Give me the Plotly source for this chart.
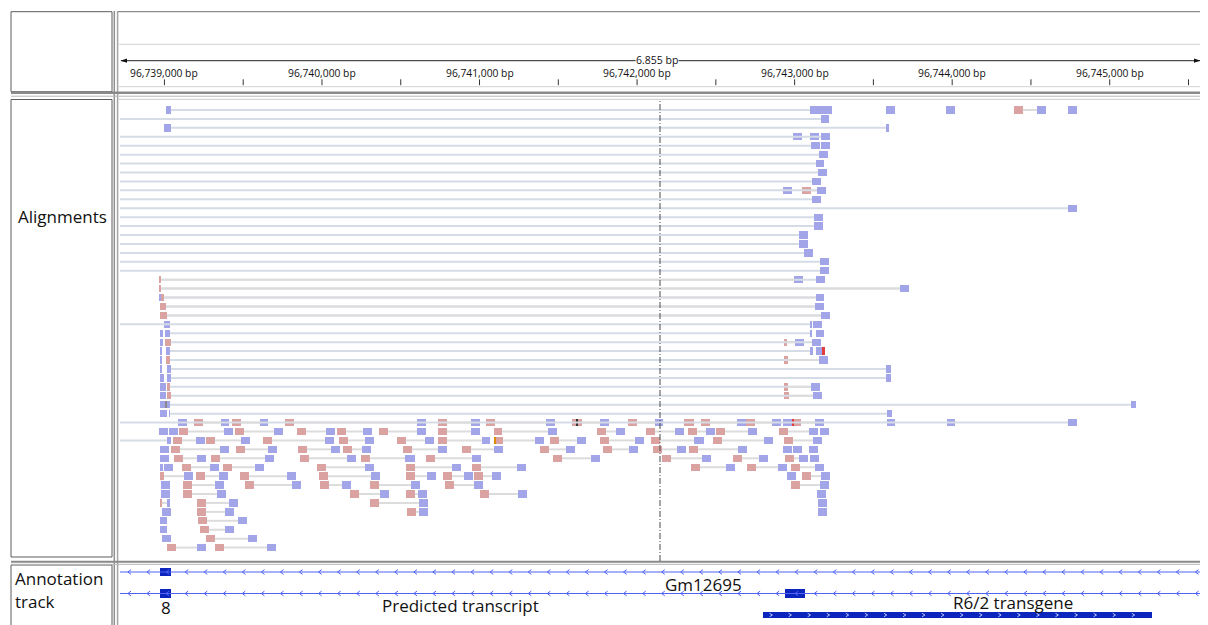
import plotly.graph_objects as go
import numpy as np

W, H = 1208, 625
PAGE_MARGIN = 8                              # the html body margin shifts the figure
BASE = 96_739_000
VIEW_START, VIEW_END = -282, 6573          # bp offsets from BASE visible in the window
OFF_LEFT = -400                             # reads that begin left of the window

RULER_TICKS = [0, 1000, 2000, 3000, 4000, 5000, 6000]
RULER_LABELS = ["96,739,000 bp", "96,740,000 bp", "96,741,000 bp", "96,742,000 bp",
                "96,743,000 bp", "96,744,000 bp", "96,745,000 bp"]
RULER_MINOR = [500, 1500, 2500, 3500, 4500, 5500, 6500]
SPAN_TEXT = "6.855 bp"

# aligned blocks per row: (start, end, strand) ; '+' = pink, '-' = blue
READ_ROWS = [
    [(10, 41, '-'), (4097, 4122, '-'), (4122, 4180, '-'), (4180, 4237, '-'), (4580, 4637, '-'),
     (4960, 5017, '-'), (5392, 5449, '+'), (5538, 5595, '-'), (5735, 5792, '-')],
    [(4167, 4218, '-')],
    [(-3, 41, '-'), (4580, 4599, '-')],
    [(3989, 4046, '-'), (4097, 4154, '-'), (4167, 4224, '-')],
    [(4103, 4161, '-'), (4167, 4224, '-')],
    [(4154, 4211, '-')],
    [(4135, 4186, '-')],
    [(4148, 4205, '-')],
    [(4110, 4167, '-')],
    [(3926, 3983, '-'), (4046, 4103, '+'), (4142, 4199, '-')],
    [(4110, 4167, '-')],
    [(5735, 5792, '-')],
    [(4122, 4180, '-')],
    [(4122, 4180, '-')],
    [(4027, 4084, '-')],
    [(4027, 4084, '-')],
    [(4059, 4116, '-')],
    [(4161, 4218, '-')],
    [(4161, 4218, '-')],
    [(-29, -20, '+'), (3995, 4053, '-'), (4135, 4192, '-')],
    [(-29, -20, '+'), (4669, 4725, '-')],
    [(-29, -22, '-'), (-22, -3, '+'), (4135, 4186, '-')],
    [(-29, 10, '+'), (4129, 4186, '-')],
    [(-29, 16, '+'), (4167, 4224, '-')],
    [(-3, 35, '-'), (4097, 4110, '-'), (4116, 4173, '-')],
    [(-29, -10, '-'), (3, 35, '-'), (4097, 4110, '-'), (4135, 4186, '-')],
    [(-29, -10, '-'), (3, 41, '+'), (3932, 3951, '+'), (4002, 4059, '-'), (4110, 4167, '-')],
    [(-29, -16, '-'), (10, 35, '-'), (4097, 4116, '-'), (4135, 4186, '-')],
    [(-29, -16, '-'), (10, 35, '+'), (3932, 3957, '+'), (4154, 4211, '-')],
    [(-29, -16, '-'), (16, 41, '-'), (4580, 4611, '-')],
    [(-29, -3, '-'), (16, 41, '-'), (4580, 4611, '-')],
    [(-29, 10, '-'), (16, 35, '+'), (3932, 3957, '+'), (4103, 4161, '-')],
    [(-29, 10, '-'), (16, 41, '+'), (3932, 3963, '+'), (4116, 4173, '-')],
    [(-29, 35, '-'), (6134, 6166, '-')],
    [(-29, 16, '-'), (29, 35, '-'), (4586, 4618, '-')],
    # 35
    [(86, 143, '-'), (187, 244, '+'), (359, 409, '-'), (429, 486, '+'), (606, 657, '-'), (765, 822, '+'),
     (1603, 1660, '-'), (1736, 1793, '+'), (1945, 2003, '-'), (2041, 2098, '+'), (2421, 2478, '-'),
     (2586, 2650, '+'), (2764, 2821, '-'), (2942, 2999, '+'), (3113, 3164, '-'), (3297, 3361, '+'),
     (3405, 3462, '+'), (3634, 3691, '-'), (3691, 3748, '+'), (3856, 3913, '-'), (3926, 3983, '-'),
     (3983, 4040, '+'), (4129, 4186, '-'), (4586, 4637, '-'), (4967, 5017, '-'), (5735, 5792, '-')],
    # 36
    [(-35, 22, '-'), (29, 86, '-'), (92, 149, '+'), (378, 435, '-'), (448, 505, '+'), (695, 752, '-'),
     (841, 898, '+'), (1025, 1082, '-'), (1095, 1152, '+'), (1260, 1317, '-'), (1362, 1419, '+'),
     (1603, 1660, '-'), (1736, 1793, '+'), (1945, 2003, '-'), (2092, 2142, '+'), (2434, 2491, '-'),
     (2745, 2802, '+'), (2866, 2923, '-'), (3056, 3113, '+'), (3240, 3297, '-'), (3323, 3380, '+'),
     (3437, 3494, '-'), (3500, 3558, '+'), (3704, 3761, '-'), (3900, 3957, '+'), (4091, 4148, '-'),
     (4161, 4218, '-')],
    # 37
    [(16, 41, '-'), (54, 111, '+'), (200, 257, '-'), (263, 320, '+'), (486, 543, '-'), (625, 682, '+'),
     (1019, 1076, '-'), (1108, 1165, '+'), (1273, 1330, '-'), (1476, 1533, '+'), (1654, 1711, '-'),
     (1736, 1793, '+'), (2015, 2066, '-'), (2092, 2148, '+'), (2352, 2409, '-'), (2447, 2504, '+'),
     (2618, 2675, '-'), (2764, 2821, '+'), (2986, 3043, '-'), (3088, 3145, '+'), (3361, 3424, '-'),
     (3481, 3538, '+'), (3805, 3862, '-'), (3932, 3989, '+'), (4116, 4173, '-')],
    # 38
    [(-29, 29, '-'), (41, 98, '+'), (352, 409, '-'), (454, 511, '+'), (657, 714, '-'), (847, 905, '+'),
     (1057, 1114, '-'), (1133, 1190, '+'), (1254, 1311, '-'), (1514, 1571, '+'), (1736, 1793, '-'),
     (1888, 1945, '+'), (2092, 2148, '-'), (2383, 2440, '+'), (2548, 2606, '-'), (2783, 2840, '+'),
     (2948, 3005, '-'), (3101, 3158, '+'), (3253, 3310, '-'), (3329, 3386, '+'), (3640, 3697, '-'),
     (3926, 3983, '-'), (3989, 4046, '-'), (4091, 4148, '-')],
    # 39
    [(-29, 29, '-'), (60, 117, '+'), (206, 263, '-'), (295, 352, '+'), (638, 695, '-'), (860, 917, '+'),
     (1159, 1215, '-'), (1247, 1304, '+'), (1527, 1590, '-'), (1660, 1717, '+'), (1952, 2009, '-'),
     (2466, 2523, '+'), (2707, 2764, '-'), (3158, 3215, '+'), (3412, 3469, '-'), (3608, 3665, '+'),
     (3773, 3831, '-'), (3938, 3995, '+'), (4027, 4084, '-'), (4097, 4154, '-')],
    # 40
    [(-29, -10, '-'), (-3, 54, '-'), (111, 168, '+'), (289, 346, '-'), (371, 429, '+'), (574, 632, '-'),
     (968, 1025, '+'), (1273, 1330, '-'), (1533, 1590, '+'), (1825, 1882, '-'), (1952, 2009, '+'),
     (2237, 2294, '-'), (3342, 3399, '+'), (3564, 3621, '-'), (3697, 3754, '+'), (3894, 3951, '-'),
     (3976, 4033, '+'), (4129, 4186, '-')],
    # 41
    [(-29, -3, '+'), (124, 181, '-'), (200, 257, '+'), (346, 403, '-'), (479, 536, '+'), (778, 835, '-'),
     (981, 1038, '+'), (1311, 1368, '-'), (1533, 1590, '+'), (1666, 1723, '-'), (1768, 1825, '+'),
     (1901, 1958, '-'), (1964, 2022, '+'), (2079, 2136, '-'), (3951, 4008, '-'), (4046, 4103, '+'),
     (4167, 4224, '-')],
    # 42
    [(-22, 35, '-'), (117, 175, '+'), (320, 378, '-'), (511, 568, '+'), (809, 866, '-'), (987, 1044, '+'),
     (1127, 1184, '-'), (1304, 1362, '+'), (1565, 1622, '-'), (1780, 1838, '+'), (1964, 2022, '-'),
     (3976, 4033, '+'), (4161, 4218, '-')],
    # 43
    [(-22, 35, '-'), (117, 175, '+'), (333, 390, '-'), (1178, 1235, '+'), (1368, 1425, '-'),
     (1533, 1590, '+'), (1609, 1666, '-'), (2003, 2060, '+'), (2244, 2301, '-'), (4142, 4199, '-')],
    # 44
    [(-29, -16, '+'), (16, 35, '-'), (206, 263, '+'), (409, 467, '-'), (1304, 1362, '+'),
     (1615, 1673, '-'), (4148, 4205, '-')],
    # 45
    [(-16, 41, '-'), (206, 263, '+'), (384, 441, '-'), (1539, 1596, '+'), (1615, 1673, '-'),
     (4148, 4205, '-')],
    [(-29, 16, '-'), (213, 270, '+'), (467, 524, '-')],
    [(-29, 16, '-'), (225, 282, '+'), (384, 441, '-')],
    [(-16, 41, '-'), (263, 320, '+'), (530, 587, '-')],
    [(16, 73, '+'), (206, 263, '-'), (320, 378, '+'), (651, 708, '-')],
]

# spliced (gapped) read lines: (row, start, end)
SPLICE = [(0, 41, 4097), (1, OFF_LEFT, 4167), (2, 41, 4580), (3, OFF_LEFT, 4167), (4, OFF_LEFT, 4103),
          (5, OFF_LEFT, 4154), (6, OFF_LEFT, 4135), (7, OFF_LEFT, 4148), (8, OFF_LEFT, 4110),
          (9, OFF_LEFT, 4142), (10, OFF_LEFT, 4110), (11, OFF_LEFT, 5735), (12, OFF_LEFT, 4122),
          (13, OFF_LEFT, 4122), (14, OFF_LEFT, 4027), (15, OFF_LEFT, 4027), (16, OFF_LEFT, 4059),
          (17, OFF_LEFT, 4161), (18, OFF_LEFT, 4161), (19, -20, 4135), (20, -20, 4669), (21, -3, 4135),
          (22, 10, 4129), (23, 16, 4167), (24, OFF_LEFT, 4097), (25, 35, 4097), (26, 41, 4110),
          (27, 35, 4097), (28, 35, 4154), (29, 41, 4580), (30, 41, 4580), (31, 35, 4103),
          (32, 41, 4116), (33, 35, 6134), (34, 35, 4586), (35, OFF_LEFT, 5735), (37, OFF_LEFT, 16)]

# mismatch marks: (row, position, colour)
MISMATCH = [(27, 4180, "#e03c3c"), (35, 3989, "#e03c3c"), (35, 2615, "#333333"), (37, 2094, "#e08a00"),
            (33, 5, "#888888")]

# annotation track features
GENE_ROWS = [0, 1]                       # rows with the minus-strand gene lines
EXONS = [(0, -29, 41), (1, -29, 41), (1, 3938, 4065)]
TRANSGENE = (2, 3799, 6268)
FEATURE_LABELS = [("Gm12695", 3424, 0.56), ("8", 10, 1.66), ("Predicted transcript", 1882, 1.58),
                  ("R6/2 transgene", 5386, 1.44)]
CHEVRON_STEP = 121

BLUE, PINK = "#a2a5e8", "#dba2a2"
FONT = "Open Sans"


def px(x):
    return (x - PAGE_MARGIN) / W


def py(y):
    return 1 - (y - PAGE_MARGIN) / H


fig = go.Figure()

# spliced read lines
sx, sy = [], []
for r, s, e in SPLICE:
    sx += [BASE + s, BASE + e, None]
    sy += [r, r, None]
fig.add_trace(go.Scatter(x=sx, y=sy, mode="lines", line=dict(color="#d6dce6", width=2),
                         hoverinfo="skip"))

# mate-pair connectors: a '+' mate joined to the next '-' mate in the row
cx, cy = [], []
for r, blocks in enumerate(READ_ROWS):
    bl = sorted(blocks)
    for a, b in zip(bl[:-1], bl[1:]):
        if a[2] == '+' and b[2] == '-' and b[0] > a[1]:
            cx += [BASE + a[1], BASE + b[0], None]
            cy += [r, r, None]
fig.add_trace(go.Scatter(x=cx, y=cy, mode="lines", line=dict(color="#dcdcdc", width=2),
                         hoverinfo="skip"))

# aligned blocks
for strand, col in (("-", BLUE), ("+", PINK)):
    ys, bases, lens = [], [], []
    for r, blocks in enumerate(READ_ROWS):
        for s, e, st in blocks:
            if st == strand:
                ys.append(r)
                bases.append(BASE + s)
                lens.append(e - s)
    fig.add_trace(go.Bar(y=ys, x=lens, base=bases, orientation="h", width=0.82,
                         marker=dict(color=col, line=dict(width=0)), hoverinfo="skip"))

# mismatches
fig.add_trace(go.Bar(y=[m[0] for m in MISMATCH], x=[10] * len(MISMATCH),
                     base=[BASE + m[1] for m in MISMATCH], orientation="h", width=0.82,
                     marker=dict(color=[m[2] for m in MISMATCH], line=dict(width=0)),
                     hoverinfo="skip"))

# annotation track: gene lines with chevrons
gx, gy = [], []
chev = np.arange(-232, VIEW_END, CHEVRON_STEP)
for k in GENE_ROWS:
    gx += [BASE + OFF_LEFT, BASE + VIEW_END + 200, None]
    gy += [k, k, None]
    for c in chev:
        gx += [BASE + c + 20, BASE + c, BASE + c + 20, None]
        gy += [k - 0.11, k, k + 0.11, None]
fig.add_trace(go.Scatter(x=gx, y=gy, mode="lines", line=dict(color="#4f63f2", width=1),
                         yaxis="y2", hoverinfo="skip"))

fig.add_trace(go.Bar(y=[e[0] for e in EXONS], x=[e[2] - e[1] for e in EXONS],
                     base=[BASE + e[1] for e in EXONS], orientation="h",
                     width=[0.38, 0.38, 0.44], marker=dict(color="#0b25bd", line=dict(width=0)),
                     yaxis="y2", hoverinfo="skip"))
tk, ts, te = TRANSGENE
fig.add_trace(go.Bar(y=[tk], x=[te - ts], base=[BASE + ts], orientation="h", width=0.24,
                     marker=dict(color="#0b25bd", line=dict(width=0)), yaxis="y2",
                     hoverinfo="skip"))
tx, tyy = [], []
for c in np.arange(ts + 60, te - 20, CHEVRON_STEP):
    tx += [BASE + c - 18, BASE + c, BASE + c - 18, None]
    tyy += [tk - 0.08, tk, tk + 0.08, None]
fig.add_trace(go.Scatter(x=tx, y=tyy, mode="lines", line=dict(color="#b8c2ff", width=1),
                         yaxis="y2", hoverinfo="skip"))

shapes = []
ann = []

# panel frames
gray = "#5c5c5c"
for (x0, y0, x1, y1) in [(11, 11.7, 112, 91.7), (11, 99.5, 112, 557), (11, 565, 112, 640)]:
    shapes.append(dict(type="rect", xref="paper", yref="paper", x0=px(x0), x1=px(x1),
                       y0=py(y1), y1=py(y0), line=dict(color=gray, width=1)))
for xx, col in ((114.3, "#8f8f8f"), (117.6, "#a5a5a5")):
    shapes.append(dict(type="line", xref="paper", yref="paper", x0=px(xx), x1=px(xx),
                       y0=py(640), y1=py(11), line=dict(color=col, width=1.5)))
shapes.append(dict(type="line", xref="paper", yref="paper", x0=px(118), x1=px(1201),
                   y0=py(11.7), y1=py(11.7), line=dict(color="#707070", width=1)))
shapes.append(dict(type="line", xref="paper", yref="paper", x0=px(1201), x1=px(1201),
                   y0=py(640), y1=py(11.7), line=dict(color="#8a8a8a", width=1)))
for yy, col, wd in ((92.8, "#8a8a8a", 2.5), (96.2, "#b5b5b5", 1), (561.8, "#8a8a8a", 2),
                    (564.3, "#b5b5b5", 1)):
    shapes.append(dict(type="line", xref="paper", yref="paper", x0=px(11), x1=px(1201),
                       y0=py(yy), y1=py(yy), line=dict(color=col, width=wd)))
shapes.append(dict(type="line", xref="paper", yref="paper", x0=px(118), x1=px(1201),
                   y0=py(99.3), y1=py(99.3), line=dict(color="#c8c8c8", width=1)))

# ruler
for yy in (44.3, 86.7):
    shapes.append(dict(type="line", xref="paper", yref="paper", x0=px(119), x1=px(1201),
                       y0=py(yy), y1=py(yy), line=dict(color="#d2d2d2", width=1)))
for t in RULER_TICKS + RULER_MINOR:
    shapes.append(dict(type="line", xref="x", yref="paper", x0=BASE + t, x1=BASE + t,
                       y0=py(85.2), y1=py(79.3), line=dict(color="#333333", width=1)))
for t, lab in zip(RULER_TICKS, RULER_LABELS):
    ann.append(dict(x=BASE + t, y=py(73.3), xref="x", yref="paper", text=lab, showarrow=False,
                    font=dict(family=FONT, size=10.3, color="#111111"), xanchor="center",
                    yanchor="middle"))
shapes.append(dict(type="line", xref="x", yref="paper", x0=BASE + VIEW_START + 6,
                   x1=BASE + VIEW_END, y0=py(60.7), y1=py(60.7),
                   line=dict(color="#222222", width=1)))
shapes.append(dict(type="path", xref="paper", yref="paper",
                   path=f"M {px(120.5)},{py(60.7)} L {px(127)},{py(58.6)} L {px(127)},{py(62.8)} Z",
                   fillcolor="#111111", line=dict(width=0)))
shapes.append(dict(type="path", xref="paper", yref="paper",
                   path=f"M {px(1200.5)},{py(60.7)} L {px(1194)},{py(58.6)} L {px(1194)},{py(62.8)} Z",
                   fillcolor="#111111", line=dict(width=0)))
center = BASE + (VIEW_START + VIEW_END) / 2
ann.append(dict(x=center - 20, y=py(60.5), xref="x", yref="paper", text=SPAN_TEXT,
                showarrow=False, bgcolor="white", borderpad=0,
                font=dict(family=FONT, size=10.5, color="#111111"), xanchor="center",
                yanchor="middle"))

# centre line
shapes.append(dict(type="line", xref="x", yref="paper", x0=center, x1=center, y0=py(561),
                   y1=py(100), line=dict(color="#4a4a4a", width=1, dash="6px,2px,1px,2px"),
                   layer="above"))

# track names
ann.append(dict(x=px(62), y=py(216), xref="paper", yref="paper", text="Alignments",
                showarrow=False, font=dict(family=FONT, size=17, color="#111111"),
                xanchor="center", yanchor="middle"))
ann.append(dict(x=px(13), y=py(578), xref="paper", yref="paper", text="Annotation",
                showarrow=False, font=dict(family=FONT, size=17, color="#111111"),
                xanchor="left", yanchor="middle"))
ann.append(dict(x=px(13), y=py(601), xref="paper", yref="paper", text="track",
                showarrow=False, font=dict(family=FONT, size=17, color="#111111"),
                xanchor="left", yanchor="middle"))

for text, pos, k in FEATURE_LABELS:
    ann.append(dict(x=BASE + pos, y=k, xref="x", yref="y2", text=text, showarrow=False,
                    font=dict(family=FONT, size=17, color="#111111"), xanchor="center",
                    yanchor="middle"))

# annotation-track axis: rows at 21.5 px spacing starting 572 px
ann_top, ann_bot = 565, 625
fig.update_layout(
    width=W, height=H, margin=dict(l=0, r=0, t=0, b=0),
    paper_bgcolor="white", plot_bgcolor="white", showlegend=False, barmode="overlay",
    bargap=0,
    xaxis=dict(domain=[px(120), px(1200)], range=[BASE + VIEW_START, BASE + VIEW_END],
               visible=False, fixedrange=True),
    yaxis=dict(domain=[py(560), py(100)], range=[50.39, -1.12], visible=False),
    yaxis2=dict(domain=[py(ann_bot), py(ann_top)],
                range=[(ann_bot - 572) / 21.5, (ann_top - 572) / 21.5], visible=False),
    shapes=shapes, annotations=ann,
)

fig.write_html("out.html")
